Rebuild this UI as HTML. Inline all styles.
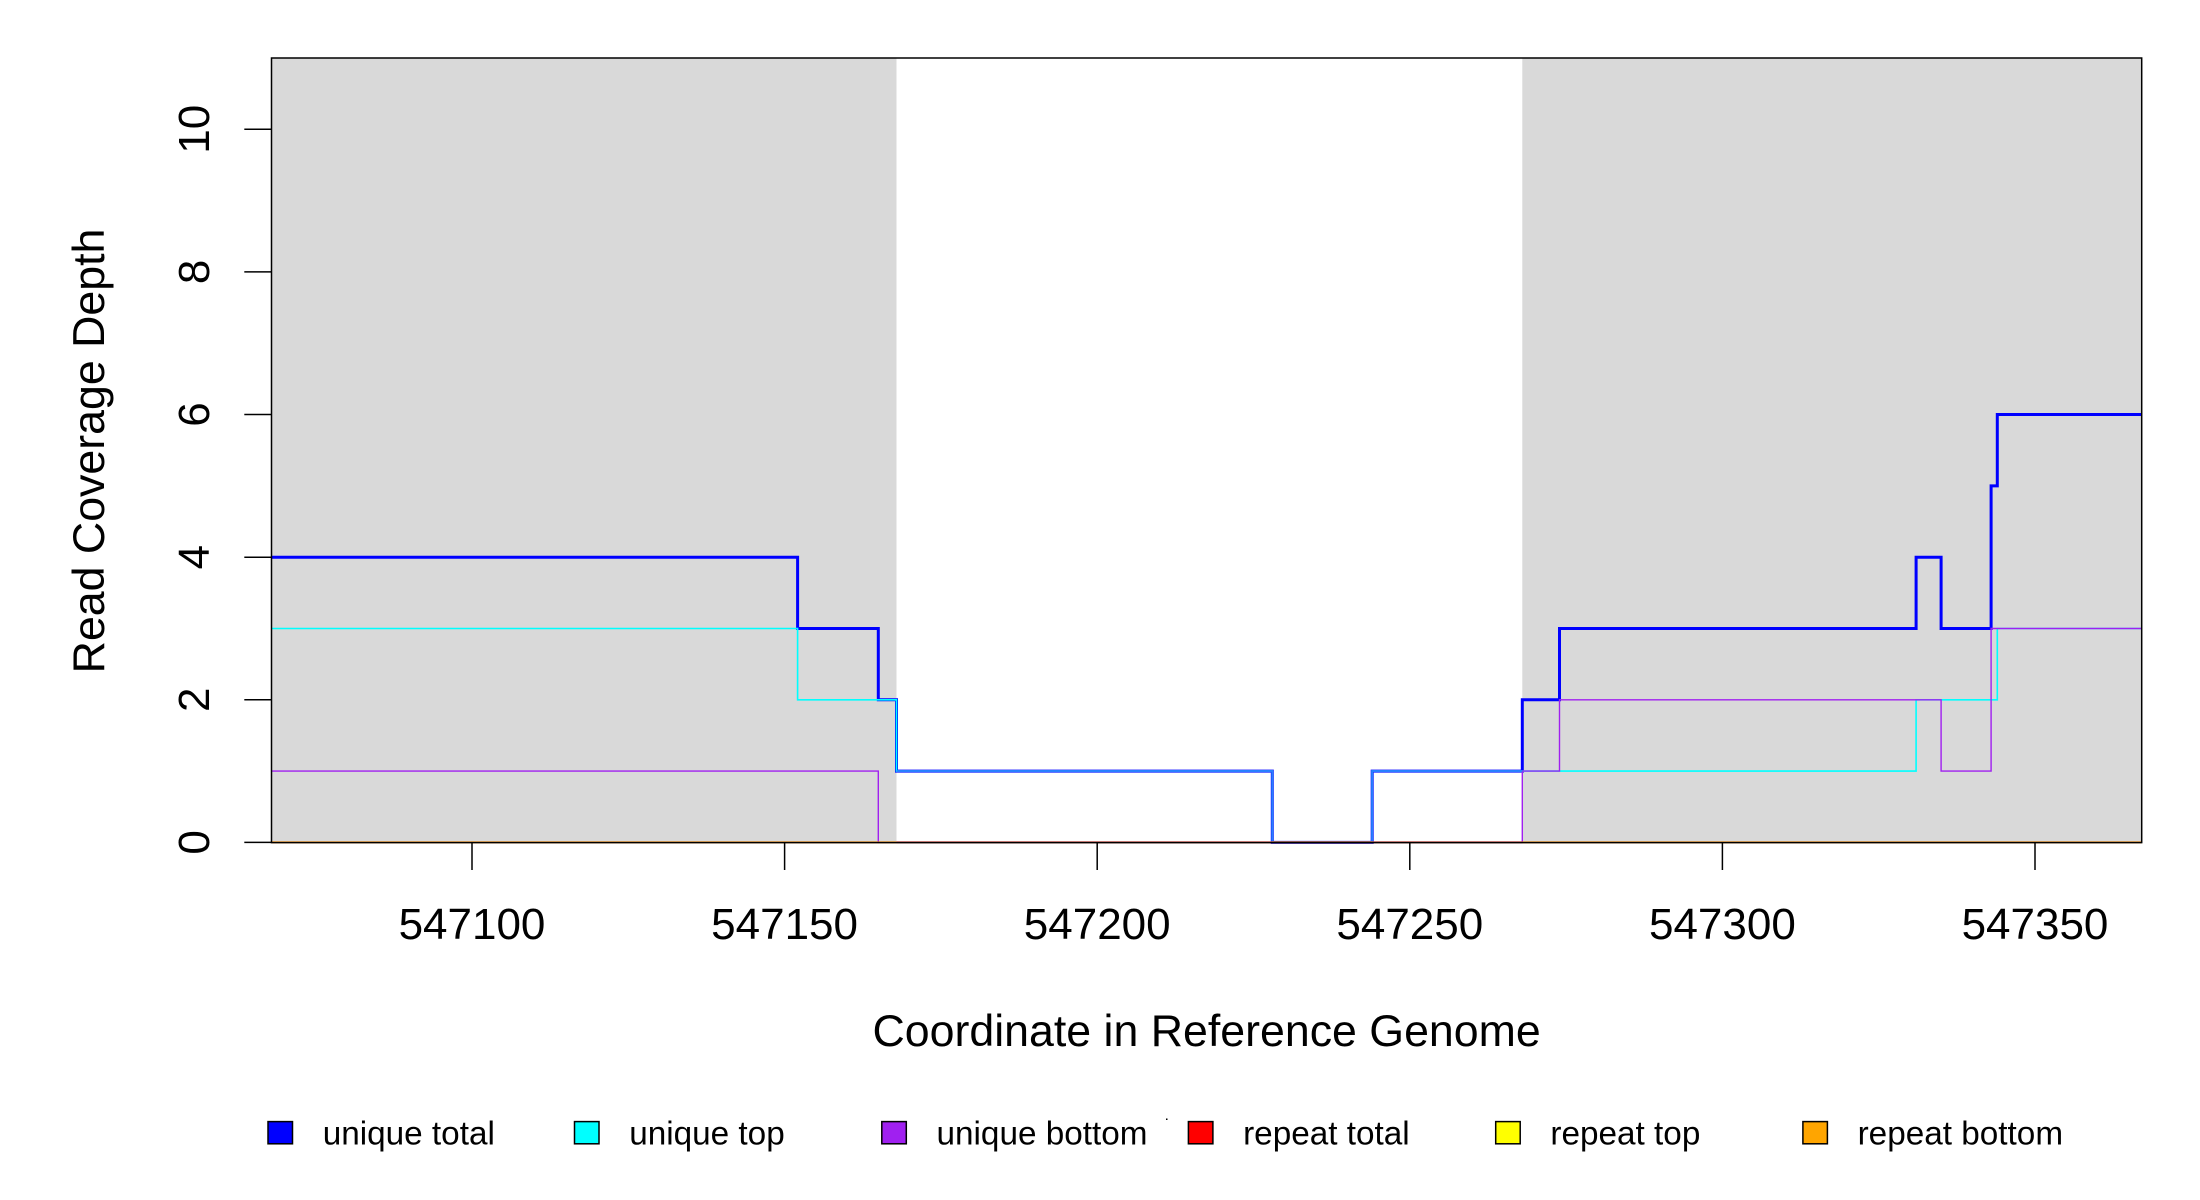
<!DOCTYPE html>
<html><head><meta charset="utf-8"><style>
html,body{margin:0;padding:0;background:#fff;}
svg{display:block;font-family:"Liberation Sans",Arial,sans-serif;}
</style></head><body>
<svg width="2200" height="1200" viewBox="0 0 2200 1200" xmlns="http://www.w3.org/2000/svg">
<rect x="0" y="0" width="2200" height="1200" fill="#fff"/>
<rect x="271.5" y="58" width="625" height="784.6" fill="#d9d9d9"/>
<rect x="1522.3" y="58" width="619.4" height="784.6" fill="#d9d9d9"/>
<polyline fill="none" stroke="#0000ff" stroke-width="3" points="271.5,557.2 797.6,557.2 797.6,628.5 878.3,628.5 878.3,699.8 896.5,699.8 896.5,771.1 1272.3,771.1 1272.3,842.4 1372.2,842.4 1372.2,771.1 1522.3,771.1 1522.3,699.8 1559.5,699.8 1559.5,628.5 1916.1,628.5 1916.1,557.2 1941.1,557.2 1941.1,628.5 1991.1,628.5 1991.1,485.9 1997.3,485.9 1997.3,414.5 2141.7,414.5"/>
<polyline fill="none" stroke="#00ffff" stroke-width="1.6" points="271.5,628.5 797.6,628.5 797.6,699.8 896.5,699.8 896.5,771.1 1272.3,771.1 1272.3,842.4 1372.2,842.4 1372.2,771.1 1916.1,771.1 1916.1,699.8 1997.3,699.8 1997.3,628.5 2141.7,628.5"/>
<polyline fill="none" stroke="#a020f0" stroke-width="1.4" points="271.5,771.1 878.3,771.1 878.3,842.4 1522.3,842.4 1522.3,771.1 1559.5,771.1 1559.5,699.8 1941.1,699.8 1941.1,771.1 1991.1,771.1 1991.1,628.5 2141.7,628.5"/>
<polyline fill="none" stroke="#2a7fff" stroke-width="2" points="896.5,771.1 1272.3,771.1 1272.3,842.4"/>
<polyline fill="none" stroke="#2a7fff" stroke-width="2" points="1372.2,842.4 1372.2,771.1 1522.3,771.1"/>
<line x1="1272.3" y1="842.4" x2="1372.2" y2="842.4" stroke="#5050e0" stroke-width="2.5"/>
<line x1="271.5" y1="842.4" x2="2141.7" y2="842.4" stroke="#ff8c00" stroke-width="2"/>
<line x1="896.5" y1="842.4" x2="1272.3" y2="842.4" stroke="#d04a5a" stroke-width="2"/>
<line x1="1372.2" y1="842.4" x2="1522.3" y2="842.4" stroke="#d04a5a" stroke-width="2"/>
<rect x="271.5" y="58" width="1870.2" height="784.6" fill="none" stroke="#000" stroke-width="1.5"/>
<g stroke="#000" stroke-width="1.5">
<line x1="244.3" y1="842.4" x2="271.5" y2="842.4"/>
<line x1="244.3" y1="699.8" x2="271.5" y2="699.8"/>
<line x1="244.3" y1="557.2" x2="271.5" y2="557.2"/>
<line x1="244.3" y1="414.5" x2="271.5" y2="414.5"/>
<line x1="244.3" y1="271.9" x2="271.5" y2="271.9"/>
<line x1="244.3" y1="129.3" x2="271.5" y2="129.3"/>
<line x1="472" y1="842.4" x2="472" y2="870"/>
<line x1="784.6" y1="842.4" x2="784.6" y2="870"/>
<line x1="1097.2" y1="842.4" x2="1097.2" y2="870"/>
<line x1="1409.8" y1="842.4" x2="1409.8" y2="870"/>
<line x1="1722.4" y1="842.4" x2="1722.4" y2="870"/>
<line x1="2035" y1="842.4" x2="2035" y2="870"/>
</g>
<g font-size="44" text-anchor="middle" fill="#000">
<text transform="translate(209,842.4) rotate(-90)">0</text>
<text transform="translate(209,699.8) rotate(-90)">2</text>
<text transform="translate(209,557.2) rotate(-90)">4</text>
<text transform="translate(209,414.5) rotate(-90)">6</text>
<text transform="translate(209,271.9) rotate(-90)">8</text>
<text transform="translate(209,129.3) rotate(-90)">10</text>
<text x="472" y="939">547100</text>
<text x="784.6" y="939">547150</text>
<text x="1097.2" y="939">547200</text>
<text x="1409.8" y="939">547250</text>
<text x="1722.4" y="939">547300</text>
<text x="2035" y="939">547350</text>
</g>
<g font-size="44.7" text-anchor="middle" fill="#000">
<text x="1206.6" y="1046">Coordinate in Reference Genome</text>
<text transform="translate(104,451) rotate(-90)">Read Coverage Depth</text>
</g>
<g stroke="#000" stroke-width="1.5">
<rect x="268" y="1121.6" width="24.5" height="22.2" fill="#0000ff"/>
<rect x="574.5" y="1121.6" width="24.5" height="22.2" fill="#00ffff"/>
<rect x="881.8" y="1121.6" width="24.5" height="22.2" fill="#a020f0"/>
<rect x="1188.4" y="1121.6" width="24.5" height="22.2" fill="#ff0000"/>
<rect x="1495.7" y="1121.6" width="24.5" height="22.2" fill="#ffff00"/>
<rect x="1802.9" y="1121.6" width="24.5" height="22.2" fill="#ffa500"/>
</g>
<rect x="1166" y="1118.5" width="1.5" height="1.5" fill="#000"/>
<g font-size="33.3" fill="#000">
<text x="322.7" y="1144.5">unique total</text>
<text x="629.2" y="1144.5">unique top</text>
<text x="936.5" y="1144.5">unique bottom</text>
<text x="1243.1" y="1144.5">repeat total</text>
<text x="1550.4" y="1144.5">repeat top</text>
<text x="1857.6" y="1144.5">repeat bottom</text>
</g>
</svg>
</body></html>
